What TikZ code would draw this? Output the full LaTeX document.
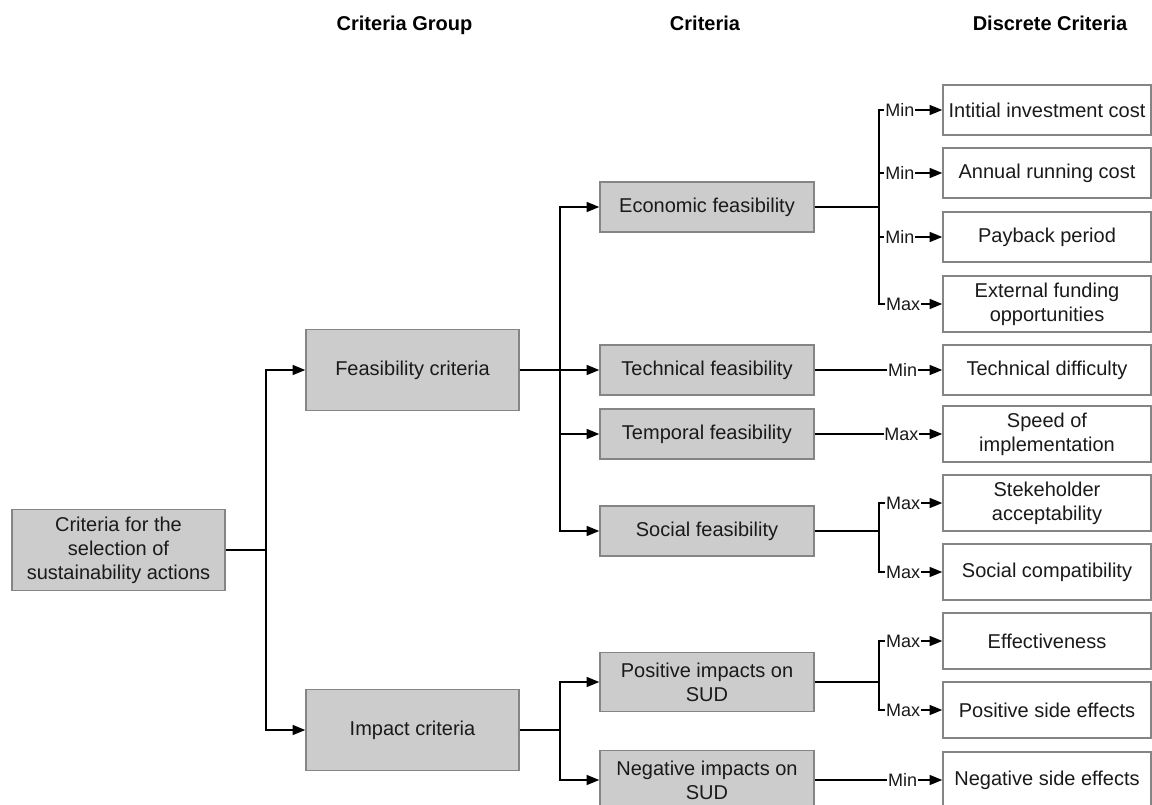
\documentclass[tikz,border=0pt]{standalone}
\usepackage{fontspec}
\setmainfont{Liberation Sans}
\usetikzlibrary{arrows.meta}
\definecolor{boxfill}{HTML}{CCCCCC}
\definecolor{boxline}{HTML}{858585}
\definecolor{ink}{HTML}{1A1A1A}
\begin{document}
\begin{tikzpicture}[x=0.75pt,y=-0.75pt,
  every node/.style={font=\fontsize{15}{18}\selectfont, text=ink},
  head/.style={font=\fontsize{15}{18}\selectfont\bfseries, text=black, anchor=base},
  graybox/.style={draw=boxline, line width=1.1pt, fill=boxfill, align=center, inner sep=2pt},
  groupbox/.style={graybox, minimum width=159.75pt, minimum height=61pt},
  critbox/.style={graybox, minimum width=160.5pt, minimum height=37.5pt},
  critbox2/.style={graybox, minimum width=160.5pt, minimum height=44.5pt},
  discbox/.style={draw=boxline, line width=1.1pt, fill=white, align=center, inner sep=2pt, minimum width=156pt, minimum height=37.5pt},
  discbox2/.style={discbox, minimum height=42pt},
  link/.style={line width=1.1pt, draw=black},
  arr/.style={link, -{Triangle[length=9.5pt, width=7.5pt]}},
  lbl/.style={font=\fontsize{13.5}{15}\selectfont, fill=white, inner sep=0.6pt, text=ink},
  minlbl/.style={lbl, pos=0.664},
  maxlbl/.style={lbl, pos=0.69}]

\path[use as bounding box] (0,0) rectangle (1152,805);

% column headings
\node[head] (h1) at (404.5,31) {Criteria Group};
\node[head] (h2) at (705,31) {Criteria};
\node[head] (h3) at (1050,31) {Discrete Criteria};

% root and criteria groups
\node[groupbox] (root) at (118.5,550) {Criteria for the\\selection of\\sustainability actions};
\node[groupbox] (feas) at (412.5,370) {Feasibility criteria};
\node[groupbox] (imp) at (412.5,730) {Impact criteria};

% criteria
\node[critbox] (econ) at (707,207) {Economic feasibility};
\node[critbox] (tech) at (707,370) {Technical feasibility};
\node[critbox] (temp) at (707,434) {Temporal feasibility};
\node[critbox] (soc) at (707,531) {Social feasibility};
\node[critbox2] (pos) at (707,682) {Positive impacts on\\SUD};
\node[critbox2] (neg) at (707,780) {Negative impacts on\\SUD};

% discrete criteria
\node[discbox] (d1) at (1047,110) {Intitial investment cost};
\node[discbox] (d2) at (1047,173) {Annual running cost};
\node[discbox] (d3) at (1047,237) {Payback period};
\node[discbox2] (d4) at (1047,304) {External funding\\opportunities};
\node[discbox] (d5) at (1047,370) {Technical difficulty};
\node[discbox2] (d6) at (1047,434) {Speed of\\implementation};
\node[discbox2] (d7) at (1047,503) {Stekeholder\\acceptability};
\node[discbox2] (d8) at (1047,572) {Social compatibility};
\node[discbox2] (d9) at (1047,641) {Effectiveness};
\node[discbox2] (d10) at (1047,710) {Positive side effects};
\node[discbox2] (d11) at (1047,780) {Negative side effects};

% junction points
\coordinate (j1) at (266,550);
\coordinate (j2) at (560,370);
\coordinate (j3) at (560,730);
\coordinate (b1) at (879,207);
\coordinate (b2) at (879,531);
\coordinate (b3) at (879,682);

% root to groups
\draw[arr] (root.east) -- (j1) |- (feas.west);
\draw[arr] (root.east) -- (j1) |- (imp.west);

% groups to criteria
\draw[arr] (feas.east) -- (j2) |- (econ.west);
\draw[arr] (feas.east) -- (tech.west);
\draw[arr] (feas.east) -- (j2) |- (temp.west);
\draw[arr] (feas.east) -- (j2) |- (soc.west);
\draw[arr] (imp.east) -- (j3) |- (pos.west);
\draw[arr] (imp.east) -- (j3) |- (neg.west);

% criteria to discrete criteria
\draw[arr] (econ.east) -- (b1) |- (d1.west) node[minlbl] {Min};
\draw[arr] (econ.east) -- (b1) |- (d2.west) node[minlbl] {Min};
\draw[arr] (econ.east) -- (b1) |- (d3.west) node[minlbl] {Min};
\draw[arr] (econ.east) -- (b1) |- (d4.west) node[maxlbl] {Max};
\draw[arr] (tech.east) -- (d5.west) node[lbl, pos=0.69] {Min};
\draw[arr] (temp.east) -- (d6.west) node[lbl, pos=0.68] {Max};
\draw[arr] (soc.east) -- (b2) |- (d7.west) node[maxlbl] {Max};
\draw[arr] (soc.east) -- (b2) |- (d8.west) node[maxlbl] {Max};
\draw[arr] (pos.east) -- (b3) |- (d9.west) node[maxlbl] {Max};
\draw[arr] (pos.east) -- (b3) |- (d10.west) node[maxlbl] {Max};
\draw[arr] (neg.east) -- (d11.west) node[lbl, pos=0.69] {Min};
\end{tikzpicture}
\end{document}
